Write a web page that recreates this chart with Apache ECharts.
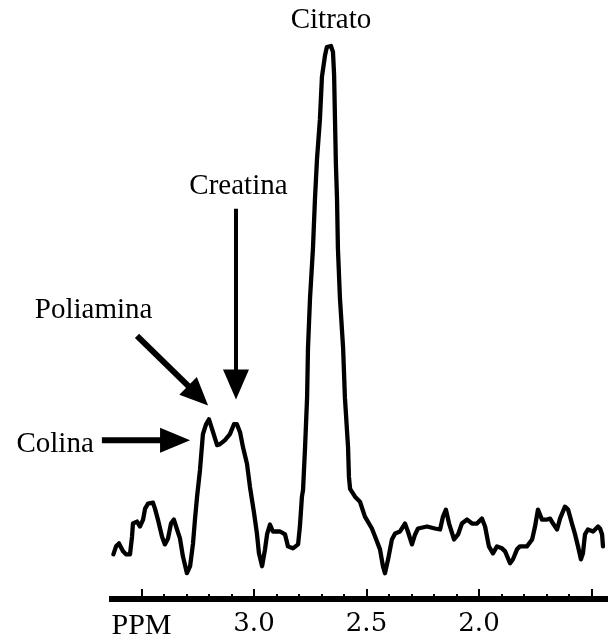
<!DOCTYPE html>
<html>
<head>
<meta charset="utf-8">
<script src="https://cdn.jsdelivr.net/npm/echarts@6/dist/echarts.min.js"></script>
<style>
  html, body { margin: 0; padding: 0; background: #fff; }
  #chart { width: 610px; height: 641px; }
</style>
</head>
<body>
<div id="chart"></div>
<script>
// Chemical shift (ppm) of each sample of the spectrum, high to low
const ppm = [
  3.625, 3.613, 3.600, 3.582, 3.569, 3.551, 3.542, 3.538, 3.520, 3.507,
  3.493, 3.484, 3.471, 3.449, 3.440, 3.427, 3.409, 3.396, 3.382, 3.369,
  3.356, 3.342, 3.329, 3.316, 3.298, 3.284, 3.271, 3.262, 3.253, 3.240,
  3.227, 3.213, 3.200, 3.182, 3.164, 3.151, 3.129, 3.107, 3.089, 3.076,
  3.062, 3.049, 3.031, 3.018, 3.000, 2.987, 2.978, 2.964, 2.951, 2.942,
  2.929, 2.916, 2.884, 2.862, 2.849, 2.827, 2.804, 2.796, 2.787, 2.782,
  2.773, 2.764, 2.760, 2.751, 2.738, 2.729, 2.720, 2.707, 2.698, 2.684,
  2.676, 2.658, 2.649, 2.644, 2.640, 2.636, 2.631, 2.627, 2.618, 2.604,
  2.596, 2.582, 2.578, 2.573, 2.551, 2.529, 2.507, 2.476, 2.462, 2.440,
  2.427, 2.418, 2.404, 2.387, 2.373, 2.351, 2.329, 2.316, 2.298, 2.284,
  2.271, 2.231, 2.196, 2.173, 2.160, 2.147, 2.133, 2.111, 2.093, 2.076,
  2.053, 2.031, 2.009, 1.987, 1.973, 1.956, 1.938, 1.920, 1.898, 1.884,
  1.862, 1.849, 1.831, 1.818, 1.787, 1.764, 1.751, 1.738, 1.720, 1.698,
  1.684, 1.671, 1.653, 1.640, 1.618, 1.604, 1.587, 1.573, 1.560, 1.547,
  1.538, 1.529, 1.516, 1.493, 1.471, 1.462, 1.453, 1.449
];

// Signal intensity (arbitrary units) at each ppm sample
const signal = [
   9.0, 10.6, 11.2,  9.6,  9.0,  9.0, 12.6, 15.2, 15.6, 14.6,
  16.0, 18.2, 19.2, 19.4, 18.2, 16.0, 12.6, 11.0, 12.2, 15.2,
  16.0, 14.0, 12.2,  8.6,  5.2,  6.6, 11.2, 16.2, 20.6, 26.0,
  33.2, 35.2, 36.2, 33.6, 31.0, 31.2, 32.0, 33.2, 35.2, 35.2,
  33.6, 30.6, 27.2, 22.6, 17.4, 13.2,  9.2,  6.6, 10.0, 13.0,
  15.0, 13.6, 13.6, 13.0, 10.6, 10.2, 11.0, 14.6, 20.6, 22.0,
  30.6, 40.6, 50.6, 60.6, 70.6, 80.6, 88.6, 96.6, 105.2, 109.6,
  111.2, 111.4, 110.2, 105.6, 96.6, 87.6, 80.6, 70.6, 60.6, 50.6,
  40.6, 30.6, 24.6, 22.2, 20.6, 19.6, 16.6, 14.2, 12.6, 10.0,
   6.6,  5.2,  8.0, 12.0, 13.2, 13.6, 15.2, 13.6, 11.0, 13.0,
  14.2, 14.6, 14.2, 14.0, 16.6, 18.0, 15.2, 12.0, 13.0, 15.2,
  16.0, 15.2, 15.2, 16.2, 14.6, 10.6,  9.2, 10.6, 10.2,  9.6,
   7.2,  8.0, 10.0, 10.6, 10.6, 12.0, 14.6, 18.0, 16.0, 16.0,
  16.2, 15.2, 14.0, 16.2, 18.6, 18.0, 15.2, 13.0, 10.6,  8.0,
   9.2, 13.0, 14.0, 13.6, 14.6, 14.2, 13.0, 10.6
];

// Axis ticks (ppm)
const majorTicks = [3.5, 3.0, 2.5, 2.0, 1.5];
const minorTicks = [3.4, 3.3, 3.2, 3.1, 2.9, 2.8, 2.7, 2.6, 2.4, 2.3, 2.2, 2.1, 1.9, 1.8, 1.7, 1.6];
const labelTicks = [3.5, 3.0, 2.5, 2.0];
const axisTitle = 'PPM';

// Metabolite names
const metabolites = ['Citrato', 'Creatina', 'Poliamina', 'Colina'];

const X_MIN = 1.4267;
const X_MAX = 3.6444;

const chart = echarts.init(document.getElementById('chart'), null, { renderer: 'canvas' });

const baseAxis = {
  type: 'value',
  min: X_MIN,
  max: X_MAX,
  inverse: true,
  position: 'bottom',
  splitLine: { show: false }
};

chart.setOption({
  animation: false,
  backgroundColor: '#fff',
  grid: { left: 109, right: 2, top: 43, bottom: 38 },
  xAxis: [
    Object.assign({}, baseAxis, {
      axisLine: { show: true, lineStyle: { color: '#000', width: 6, cap: 'butt' } },
      axisTick: {
        show: true, inside: true, length: 10, customValues: majorTicks,
        lineStyle: { color: '#000', width: 2 }
      },
      axisLabel: {
        show: true,
        customValues: labelTicks,
        margin: 12,
        formatter: function (v) {
          if (Math.abs(v - labelTicks[0]) < 1e-6) return '{p|' + axisTitle + '}';
          return '{n|' + v.toFixed(1) + '}';
        },
        rich: {
          p: { fontFamily: 'Liberation Serif', fontSize: 30, color: '#000' },
          n: { fontFamily: 'DejaVu Serif', fontSize: 26, color: '#000' }
        }
      }
    }),
    Object.assign({}, baseAxis, {
      axisLine: { show: false },
      axisTick: {
        show: true, inside: true, length: 5, customValues: minorTicks,
        lineStyle: { color: '#000', width: 2 }
      },
      axisLabel: { show: false }
    })
  ],
  yAxis: { type: 'value', min: 0, max: 112, show: false },
  series: [{
    type: 'line',
    xAxisIndex: 0,
    data: ppm.map(function (p, i) { return [p, signal[i]]; }),
    symbol: 'none',
    showSymbol: false,
    lineStyle: { color: '#000', width: 4.3, join: 'round', cap: 'round' },
    z: 3
  }]
});

// Peak annotations, anchored in data space (ppm, intensity)
const notes = [
  { text: metabolites[0], at: [2.658, 116.6] },
  { text: metabolites[1], at: [3.069, 83.2] },
  { text: metabolites[2], at: [3.713, 58.1] },
  { text: metabolites[3], at: [3.884, 31.2] }
];
const arrows = [
  { from: [3.080, 78.6], to: [3.080, 40.2], shaft: 4, headLen: 30, headWidth: 26 },
  { from: [3.520, 53.0], to: [3.204, 39.0], shaft: 6, headLen: 28, headWidth: 25 },
  { from: [3.676, 32.0], to: [3.284, 32.0], shaft: 6, headLen: 30, headWidth: 25 }
];

function toPx(pt) {
  return chart.convertToPixel({ xAxisIndex: 0, yAxisIndex: 0 }, pt);
}

const elements = [];
notes.forEach(function (n) {
  const p = toPx(n.at);
  elements.push({
    type: 'text',
    x: p[0], y: p[1],
    style: {
      text: n.text,
      fill: '#000',
      fontFamily: 'Liberation Serif',
      fontSize: 29,
      align: 'center',
      verticalAlign: 'middle'
    },
    z: 10
  });
});
arrows.forEach(function (a) {
  const s = toPx(a.from);
  const t = toPx(a.to);
  const dx = t[0] - s[0], dy = t[1] - s[1];
  const len = Math.sqrt(dx * dx + dy * dy);
  const ux = dx / len, uy = dy / len;
  const bx = t[0] - ux * a.headLen, by = t[1] - uy * a.headLen;
  const px = -uy * a.headWidth / 2, py = ux * a.headWidth / 2;
  elements.push({
    type: 'line',
    shape: { x1: s[0], y1: s[1], x2: bx + ux * 2, y2: by + uy * 2 },
    style: { stroke: '#000', lineWidth: a.shaft },
    z: 10
  });
  elements.push({
    type: 'polygon',
    shape: { points: [[t[0], t[1]], [bx + px, by + py], [bx - px, by - py]] },
    style: { fill: '#000' },
    z: 10
  });
});
chart.setOption({ graphic: elements });
</script>
</body>
</html>
